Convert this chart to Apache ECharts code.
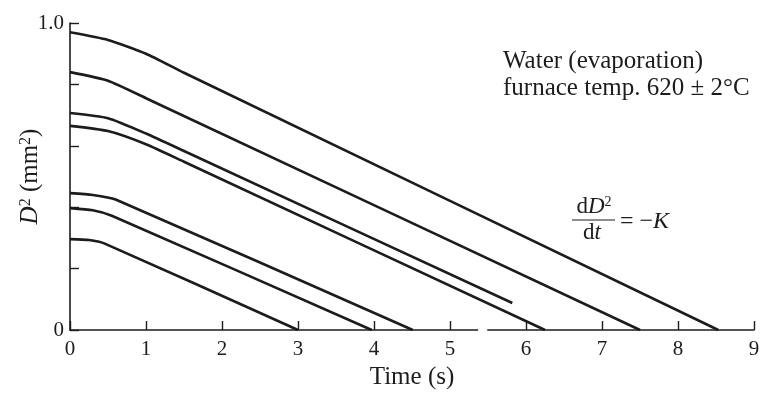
<!DOCTYPE html>
<html>
<head>
<meta charset="utf-8">
<script src="https://cdn.jsdelivr.net/npm/echarts@6/dist/echarts.min.js"></script>
<style>
  html, body { margin: 0; padding: 0; background: #fff; }
  #chart { width: 761px; height: 393px; }
</style>
</head>
<body>
<div id="chart"></div>
<script>
// time (s) / D^2 (mm^2), one array per droplet
var drop1 = [[0, 0.97], [0.5, 0.945], [1.0, 0.9], [1.5, 0.838], [8.53, 0]];
var drop2 = [[0, 0.84], [0.5, 0.812], [1.0, 0.755], [7.5, 0]];
var drop3 = [[0, 0.707], [0.5, 0.69], [1.0, 0.64], [1.5, 0.583], [5.82, 0.088]];
var drop4 = [[0, 0.665], [0.5, 0.648], [1.0, 0.605], [1.5, 0.548], [6.25, 0]];
var drop5 = [[0, 0.446], [0.3, 0.44], [0.6, 0.425], [4.51, 0]];
var drop6 = [[0, 0.397], [0.3, 0.39], [0.55, 0.372], [3.97, 0]];
var drop7 = [[0, 0.296], [0.25, 0.293], [0.45, 0.282], [3.0, 0]];

// the scan has a small gap in the time axis here
var axisGap = [5.37, 5.49];

var drops = [drop1, drop2, drop3, drop4, drop5, drop6, drop7];
var serif = '"Liberation Serif", "DejaVu Serif", serif';
var ink = '#1c1c1c';

var chart = echarts.init(document.getElementById('chart'));

var series = drops.map(function (d) {
  return {
    type: 'line',
    data: d,
    showSymbol: false,
    silent: true,
    smooth: 0.2,
    lineStyle: { color: ink, width: 2.6 }
  };
});

// rich styles for italic letters and superscripts
function richFor(size) {
  return {
    i: { fontFamily: serif, fontStyle: 'italic', fontSize: size, fill: ink, color: ink },
    sup: { fontFamily: serif, fontSize: Math.round(size * 0.62), fill: ink, color: ink, verticalAlign: 'top' }
  };
}

var option = {
  animation: false,
  backgroundColor: '#fff',
  grid: { left: 70, right: 7, top: 23, bottom: 63, outerBoundsMode: 'none' },
  xAxis: {
    type: 'value',
    min: 0, max: 9, interval: 1,
    name: 'Time (s)',
    nameLocation: 'middle',
    nameGap: 35,
    nameTextStyle: { fontFamily: serif, fontSize: 25, color: ink },
    axisLine: { lineStyle: { color: ink, width: 1.6 } },
    axisTick: { inside: true, length: 9, lineStyle: { color: ink, width: 1.4 } },
    axisLabel: { fontFamily: serif, fontSize: 21, color: ink, margin: 9 },
    splitLine: { show: false }
  },
  yAxis: {
    type: 'value',
    min: 0, max: 1, interval: 0.2,
    name: '{i|D}{sup|2} (mm{sup|2})',
    nameLocation: 'middle',
    nameGap: 27,
    nameMoveOverlap: false,
    nameRotate: 90,
    nameTextStyle: {
      fontFamily: serif, fontSize: 25, color: ink,
      rich: richFor(25)
    },
    axisLine: { lineStyle: { color: ink, width: 1.6 } },
    axisTick: { inside: true, length: 9, lineStyle: { color: ink, width: 1.4 } },
    axisLabel: {
      fontFamily: serif, fontSize: 21, color: ink, margin: 6,
      formatter: function (v) {
        if (v === 0) return '0';
        if (v === 1) return '1.0';
        return '';
      }
    },
    splitLine: { show: false }
  },
  graphic: [
    {
      id: 'note1', type: 'text', left: 503, top: 49,
      style: { text: 'Water (evaporation)', font: '25px ' + serif, fill: ink }
    },
    {
      id: 'note2', type: 'text', left: 503, top: 76,
      style: { text: 'furnace temp. 620 ± 2°C', font: '25px ' + serif, fill: ink }
    },
    {
      id: 'num', type: 'text', x: 594, y: 207,
      style: {
        text: 'd{i|D}{sup|2}', align: 'center', verticalAlign: 'middle',
        font: '23px ' + serif, fill: ink, rich: richFor(23)
      }
    },
    {
      id: 'bar', type: 'line', silent: true,
      shape: { x1: 572, y1: 220, x2: 615, y2: 220 },
      style: { stroke: ink, lineWidth: 1 }
    },
    {
      id: 'den', type: 'text', x: 592, y: 233,
      style: {
        text: 'd{i|t}', align: 'center', verticalAlign: 'middle',
        font: '23px ' + serif, fill: ink, rich: richFor(23)
      }
    },
    {
      id: 'rhs', type: 'text', x: 620, y: 222,
      style: {
        text: '= −{i|K}', align: 'left', verticalAlign: 'middle',
        font: '24px ' + serif, fill: ink, rich: richFor(24)
      }
    }
  ],
  series: series
};

chart.setOption(option);

// white out the axis gap, placed from data values
var g0 = chart.convertToPixel({ gridIndex: 0 }, [axisGap[0], 0]);
var g1 = chart.convertToPixel({ gridIndex: 0 }, [axisGap[1], 0]);
chart.setOption({
  graphic: [{
    id: 'gap', type: 'rect', silent: true, z: 100,
    shape: { x: g0[0], y: g0[1] - 2, width: g1[0] - g0[0], height: 4 },
    style: { fill: '#fff' }
  }]
});

window.addEventListener('resize', function () {
  chart.resize();
});
</script>
</body>
</html>
